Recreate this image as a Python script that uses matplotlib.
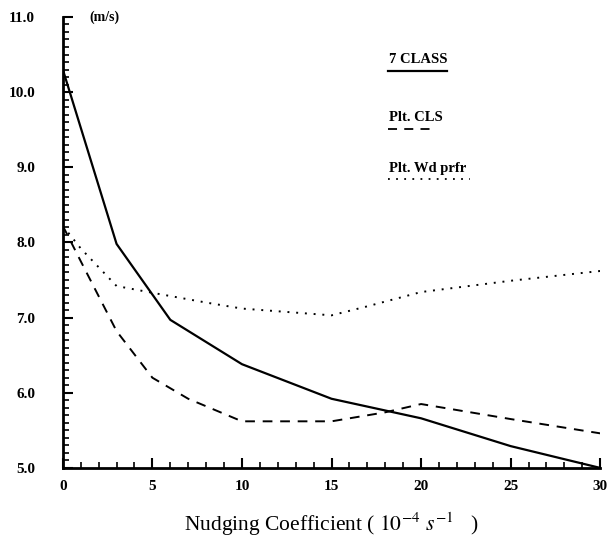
import numpy as np
import matplotlib
matplotlib.use('Agg')
import matplotlib.pyplot as plt
from matplotlib.ticker import MultipleLocator

# nudging coefficient (10^-4 s^-1) and wind speed error (m/s)
x_class = [0, 3, 6, 10, 15, 20, 25, 30]
y_class = [10.3, 7.98, 6.97, 6.38, 5.92, 5.66, 5.29, 5.0]		#7 CLASS

x_cls = [0, 1, 3, 5, 7, 10, 15, 18, 20, 25, 30]
y_cls = [8.22, 7.75, 6.82, 6.2, 5.92, 5.62, 5.62, 5.74, 5.85, 5.65, 5.46]	#Plt. CLS

x_wd = [0, 1, 3, 5, 8, 10, 15, 17, 20, 25, 30]
y_wd = [8.22, 7.92, 7.42, 7.33, 7.2, 7.12, 7.03, 7.15, 7.34, 7.49, 7.62]	#Plt. Wd prfr

labels = ['7 CLASS', 'Plt. CLS', 'Plt. Wd prfr']
styles = ['-', (0, (5, 4)), (0, (1, 3.5))]

xticks = [0, 5, 10, 15, 20, 25, 30]
yticks = [5, 6, 7, 8, 9, 10, 11]

plt.rcParams['font.family'] = ['Liberation Serif', 'DejaVu Serif']
plt.rcParams['mathtext.fontset'] = 'stix'

fig = plt.figure(figsize=(6.1, 5.46), dpi=100)
ax = fig.add_axes([0.103, 0.143, 0.881, 0.826])

series = [(x_class, y_class), (x_cls, y_cls), (x_wd, y_wd)]
for (xs, ys), ls in zip(series, styles):
	ax.plot(xs, ys, color='black', linestyle=ls, linewidth=1.6 if ls == '-' else 1.4)

ax.set_xlim(0, 30)
ax.set_ylim(5, 11)
ax.spines['top'].set_visible(False)
ax.spines['right'].set_visible(False)
ax.spines['left'].set_linewidth(2)
ax.spines['bottom'].set_linewidth(2)

ax.set_xticks(xticks)
ax.set_xticklabels([str(t) for t in xticks], fontweight='bold', fontsize=11)
ax.set_yticks(yticks)
ax.set_yticklabels(['%.1f' % t for t in yticks], fontweight='bold', fontsize=11)
ax.xaxis.set_minor_locator(MultipleLocator(1))
ax.yaxis.set_minor_locator(MultipleLocator(0.1))
ax.tick_params(direction='in', which='major', length=7, width=1.5, pad=9)
ax.tick_params(direction='in', which='minor', length=4, width=1.2)
ax.tick_params(axis='y', pad=20)

ax.set_xlabel('Nudging Coefficient ( $10^{-4}$ $s^{-1}$   )', fontsize=15.5, labelpad=12)
ax.text(0.05, 1.0, '(m/s)', transform=ax.transAxes, fontsize=10, fontweight='bold', va='center')

""" legend: label with line sample underneath """
leg_y = [0.905, 0.776, 0.665]
leg_end = [0.715, 0.69, 0.757]
for lab, ls, ty, te in zip(labels, styles, leg_y, leg_end):
	ax.text(0.607, ty, lab, transform=ax.transAxes, fontsize=10.5, fontweight='bold', va='center')
	ax.plot([0.605, te], [ty - 0.024, ty - 0.024], transform=ax.transAxes, color='black',
		linestyle=ls, linewidth=1.6 if ls == '-' else 1.3, clip_on=False)

plt.savefig('out.png', dpi=100)
